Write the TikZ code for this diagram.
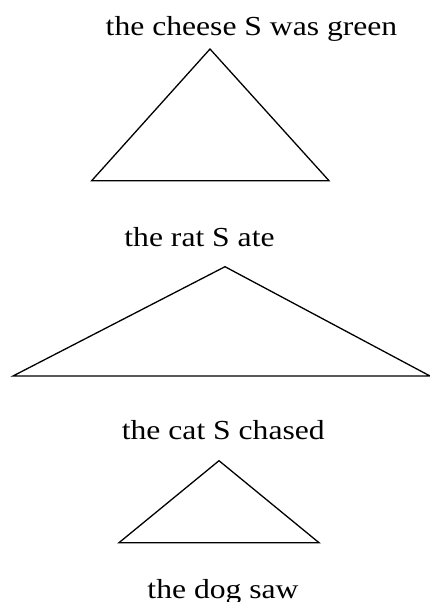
\documentclass[tikz,border=0pt]{standalone}
\usepackage{fontspec}
\setmainfont{Liberation Serif}
\begin{document}
\begin{tikzpicture}[x=1pt,y=-1pt,
  lbl/.style={anchor=base,inner sep=0pt,font=\fontsize{27.5}{30}\selectfont},
  tri/.style={draw=black,line width=1.3pt,line join=miter}]
\useasboundingbox (0,0) rectangle (430,602);
% labels
\node[lbl] (t1) at (251.5,36) {\scalebox{1.15}[1]{the cheese S was green}};
\node[lbl] (t2) at (199.5,246) {\scalebox{1.15}[1]{the rat S ate}};
\node[lbl] (t3) at (223.3,439.3) {\scalebox{1.15}[1]{the cat S chased}};
\node[lbl] (t4) at (223,598) {\scalebox{1.15}[1]{the dog saw}};
% triangles
\coordinate (a1) at (210,49);
\coordinate (l1) at (91.7,180.7);
\coordinate (r1) at (329,180.7);
\coordinate (a2) at (225,266.7);
\coordinate (l2) at (13,376);
\coordinate (r2) at (430,376);
\coordinate (a3) at (219,460.7);
\coordinate (l3) at (119,542.7);
\coordinate (r3) at (319,542.7);
\draw[tri] (a1) -- (r1) -- (l1) -- cycle;
\draw[tri] (a2) -- (r2) -- (l2) -- cycle;
\draw[tri] (a3) -- (r3) -- (l3) -- cycle;
\end{tikzpicture}
\end{document}
